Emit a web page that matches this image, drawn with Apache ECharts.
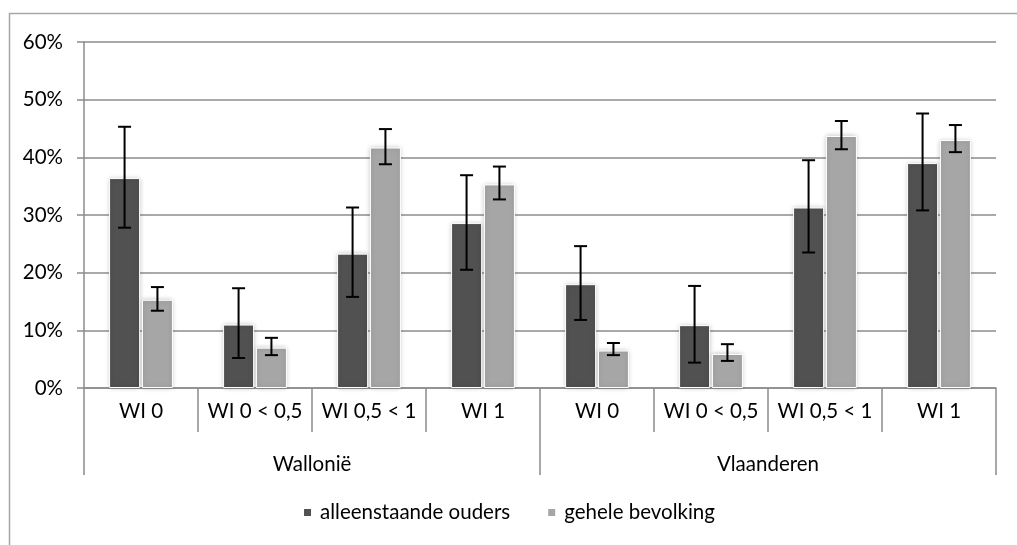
<!DOCTYPE html>
<html>
<head>
<meta charset="utf-8">
<script src="https://cdn.jsdelivr.net/npm/echarts@6/dist/echarts.min.js"></script>
<style>html,body{margin:0;padding:0;background:#fff;}#c{width:1017px;height:545px;}</style>
</head>
<body>
<div id="c"></div>
<script>
var categories = ['WI 0', 'WI 0 < 0,5', 'WI 0,5 < 1', 'WI 1', 'WI 0', 'WI 0 < 0,5', 'WI 0,5 < 1', 'WI 1'];
var regions = ['Wallonië', 'Vlaanderen'];
var seriesNames = ['alleenstaande ouders', 'gehele bevolking'];
var alleenstaande = [36.4, 11.0, 23.3, 28.6, 18.0, 10.9, 31.3, 39.0];
var alleenstaandeLow = [27.8, 5.2, 15.8, 20.5, 11.8, 4.4, 23.5, 30.8];
var alleenstaandeHigh = [45.3, 17.3, 31.3, 36.9, 24.6, 17.7, 39.5, 47.6];
var gehele = [15.3, 7.0, 41.7, 35.3, 6.5, 5.9, 43.7, 43.0];
var geheleLow = [13.4, 5.7, 38.8, 32.7, 5.7, 4.7, 41.4, 40.9];
var geheleHigh = [17.5, 8.7, 44.9, 38.4, 7.8, 7.6, 46.3, 45.6];
var yTicks = [0, 10, 20, 30, 40, 50, 60];

var FONT = 'Lato';
var FS = 20.5;
var chart = echarts.init(document.getElementById('c'));

function errData(low, high) {
  return low.map(function (l, i) { return [i, l, high[i]]; });
}
function errorRender(side) {
  return function (params, api) {
    var idx = api.value(0);
    var lo = api.coord([idx, api.value(1)]);
    var hi = api.coord([idx, api.value(2)]);
    var bw = api.size([1, 0])[0];
    var barW = bw * 0.56 / 2.06;
    var off = (barW * 1.06) / 2;
    var x = lo[0] + side * off;
    var cap = 6.5;
    var st = { stroke: '#000', lineWidth: 2 };
    return {
      type: 'group',
      children: [
        { type: 'line', shape: { x1: x, y1: hi[1], x2: x, y2: lo[1] }, style: st },
        { type: 'line', shape: { x1: x - cap, y1: hi[1], x2: x + cap, y2: hi[1] }, style: st },
        { type: 'line', shape: { x1: x - cap, y1: lo[1], x2: x + cap, y2: lo[1] }, style: st }
      ]
    };
  };
}

var barStyleBase = { borderColor: '#ffffff', borderWidth: 1, shadowBlur: 5, shadowColor: 'rgba(0,0,0,0.22)' };

chart.setOption({
  animation: false,
  textStyle: { fontFamily: FONT },
  graphic: [{
    type: 'rect', silent: true,
    shape: { x: 9.5, y: 13.5, width: 1100, height: 600 },
    style: { fill: 'none', stroke: '#a6a6a6', lineWidth: 1.5 }
  }],
  grid: { left: 84, right: 21, top: 42, bottom: 157 },
  legend: {
    data: seriesNames,
    top: 497,
    left: 'center',
    itemWidth: 9, itemHeight: 9, itemGap: 36,
    icon: 'rect',
    textStyle: { fontFamily: FONT, fontSize: FS, color: '#000', padding: [0, 0, 0, 3] }
  },
  xAxis: [{
    type: 'category',
    data: categories,
    position: 'bottom',
    axisLine: { show: true, lineStyle: { color: '#8c8c8c', width: 1.5 } },
    axisTick: { show: true, length: 44, interval: 0, lineStyle: { color: '#8c8c8c', width: 1.5 } },
    axisLabel: { interval: 0, margin: 13, fontSize: FS, color: '#000', fontFamily: FONT },
    splitLine: { show: false }
  }, {
    type: 'category',
    data: regions,
    position: 'bottom',
    axisLine: { show: false },
    axisTick: { show: true, length: 87, interval: 0, lineStyle: { color: '#8c8c8c', width: 1.5 } },
    axisLabel: { interval: 0, margin: 66, fontSize: FS, color: '#000', fontFamily: FONT },
    splitLine: { show: false }
  }],
  yAxis: {
    type: 'value',
    min: yTicks[0], max: yTicks[yTicks.length - 1], interval: 10,
    axisLine: { show: true, lineStyle: { color: '#8c8c8c', width: 1.5 } },
    axisTick: { show: true, length: 7, lineStyle: { color: '#8c8c8c', width: 1.5 } },
    axisLabel: { formatter: '{value}%', margin: 21, fontSize: FS, color: '#000', fontFamily: FONT },
    splitLine: { show: true, lineStyle: { color: '#8c8c8c', width: 1.5 } }
  },
  series: [{
    name: seriesNames[0], type: 'bar', data: alleenstaande, xAxisIndex: 0,
    barCategoryGap: '44%', barGap: '6%',
    itemStyle: Object.assign({ color: '#515151' }, barStyleBase)
  }, {
    name: seriesNames[1], type: 'bar', data: gehele, xAxisIndex: 0,
    barCategoryGap: '44%', barGap: '6%',
    itemStyle: Object.assign({ color: '#a6a6a6' }, barStyleBase)
  }, {
    type: 'custom', xAxisIndex: 0, z: 10,
    renderItem: errorRender(-1),
    data: errData(alleenstaandeLow, alleenstaandeHigh),
    encode: { x: 0, y: [1, 2] }, tooltip: { show: false }
  }, {
    type: 'custom', xAxisIndex: 0, z: 10,
    renderItem: errorRender(1),
    data: errData(geheleLow, geheleHigh),
    encode: { x: 0, y: [1, 2] }, tooltip: { show: false }
  }]
});
</script>
</body>
</html>
